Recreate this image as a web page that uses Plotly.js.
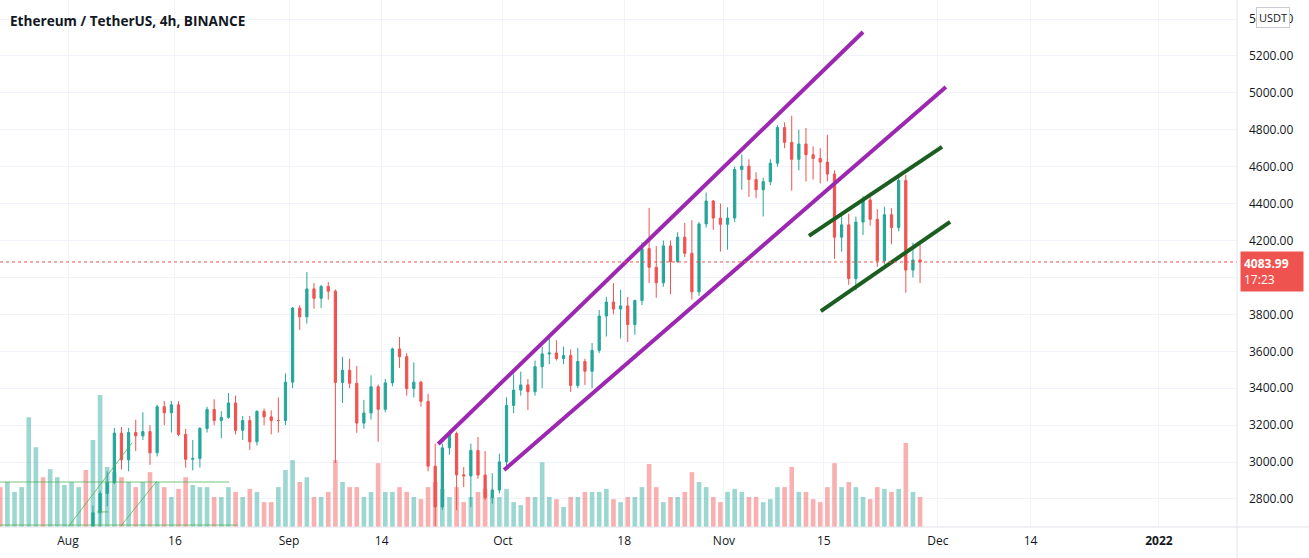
<!DOCTYPE html>
<html>
<head>
<meta charset="utf-8">
<script src="https://cdn.plot.ly/plotly-3.0.1.min.js"></script>
<style>
html,body{margin:0;padding:0;background:#fff;}
#chart{width:1309px;height:558px;}
</style>
</head>
<body>
<div id="chart"></div>
<script>
// ---- Data (daily candles, USDT) ----
const startDate = "2021-07-22";
const openP = [2030,2027,2123,2187,2190,2230,2300,2298,2380,2460,
2540,2560,2610,2505,2725,2830,2890,3157,3012,3160,3142,3165,3050,3300,3267,3310,3150,3015,3020,3182,3285,3225,3242,3320,3172,3225,3110,3275,3245,3225,3225,
3433,3834,3787,3938,3887,3951,3926,3431,3497,3427,3211,3266,3408,3286,3429,3613,3571,3398,3433,3329,2978,2757,3077,3155,2931,2925,3063,2930,2807,2849,
3001,3307,3390,3418,3381,3517,3586,3591,3561,3577,3415,3545,3492,3605,3791,3867,3829,3846,3745,3875,4156,4055,3971,4171,4085,4218,4131,3922,4290,4414,4322,
4288,4322,4585,4603,4531,4475,4519,4619,4812,4732,4640,4723,4665,4645,4625,4560,4218,4285,3994,4300,4420,4315,4090,4340,4270,4525,4040,4095];
const highP = [2050,2130,2215,2200,2440,2320,2350,2400,2470,2550,
2640,2645,2630,2765,2845,2950,3185,3190,3185,3230,3270,3200,3310,3330,3331,3330,3180,3120,3190,3300,3340,3275,3374,3360,3250,3250,3280,3290,3280,3350,3480,
3840,3850,4030,3970,3960,3975,3935,3570,3560,3520,3337,3470,3420,3450,3620,3678,3590,3540,3440,3370,3100,3100,3174,3165,2973,3100,3136,3060,2940,3045,
3350,3475,3490,3450,3550,3624,3689,3660,3625,3610,3618,3560,3645,3824,3895,3970,3933,3895,3880,4190,4377,4170,4200,4200,4245,4295,4310,4300,4460,4420,4400,
4380,4600,4667,4640,4570,4540,4640,4825,4840,4876,4800,4810,4710,4700,4773,4580,4350,4345,4330,4440,4459,4370,4383,4375,4550,4556,4188,4190];
const lowP = [1960,2000,2100,2140,2180,2150,2220,2270,2330,2440,
2510,2540,2450,2460,2530,2760,2880,2960,2950,3060,3120,2985,3030,3200,3160,3140,2970,2955,2970,3160,3200,3130,3235,3150,3120,3066,3090,3200,3150,3160,3200,
3400,3716,3750,3830,3835,3880,2995,3320,3400,3158,3180,3230,3110,3270,3410,3510,3360,3350,3300,2950,2652,2740,3040,2740,2865,2757,2910,2795,2775,2830,
2970,3265,3360,3282,3360,3400,3530,3550,3530,3380,3400,3418,3400,3590,3680,3800,3670,3650,3690,3850,3970,3890,3950,3910,4080,4110,3880,3900,4270,4258,4140,
4150,4300,4475,4437,4430,4330,4500,4600,4700,4470,4580,4520,4530,4510,4520,4100,4140,3960,3930,4230,4280,4057,4070,4180,4250,3917,4000,3970];
const closeP = [2027,2123,2187,2190,2230,2300,2298,2380,2460,2540,
2560,2610,2505,2725,2830,2890,3157,3012,3160,3142,3165,3050,3300,3267,3310,3150,3015,3020,3182,3285,3225,3242,3320,3172,3225,3110,3275,3245,3225,3225,3433,
3834,3787,3938,3887,3951,3926,3431,3497,3427,3211,3266,3408,3286,3429,3613,3571,3398,3433,3329,2978,2757,3077,3155,2931,2925,3063,2930,2807,2849,3001,
3307,3390,3418,3381,3517,3586,3591,3561,3577,3415,3545,3492,3605,3791,3867,3829,3846,3745,3875,4156,4055,3971,4171,4085,4218,4131,3922,4290,4414,4322,4288,
4322,4585,4603,4531,4475,4519,4619,4812,4732,4640,4723,4665,4645,4625,4560,4218,4285,3994,4300,4420,4315,4090,4340,4270,4525,4040,4095,4083.99];
// volume, thousand ETH (peak bar per day as seen)
const volumeK = [133,150,117,133,366,266,166,193,166,140,
150,133,190,290,440,200,183,166,150,133,150,183,150,133,100,127,166,140,133,133,100,100,133,117,100,127,117,83,83,133,190,
223,150,166,100,100,117,223,150,133,133,100,117,213,117,117,133,117,100,93,133,150,127,100,133,83,100,117,127,100,100,
127,83,73,100,100,216,100,93,67,100,100,117,117,117,127,93,83,100,100,133,210,133,83,100,100,117,183,150,133,100,83,
117,127,117,100,100,83,93,133,133,200,117,117,93,83,133,213,133,150,133,100,93,133,127,117,127,280,117,100];

const lastPrice = 4083.99;
const lastLabel = "17:23";
const priceTicks = [2800,3000,3200,3400,3600,3800,4000,4200,4400,4600,4800,5000,5200,5400];
const priceTickText = ["2800.00","3000.00","3200.00","3400.00","3600.00","3800.00","","4200.00","4400.00","4600.00","4800.00","5000.00","5200.00","5400.00"];
const dateTickVals = ["2021-08-01","2021-08-16","2021-09-01","2021-09-14","2021-10-01","2021-10-18","2021-11-01","2021-11-15","2021-12-01","2021-12-14","2022-01-01"];
const dateTickText = ["Aug","16","Sep","14","Oct","18","Nov","15","Dec","14","<b>2022</b>"];

// trend lines drawn on the chart: [date0, price0, date1, price1]
const channelLines = [
  ["2021-09-21 22:00",3098,"2021-11-20 12:00",5330],
  ["2021-10-01 04:00",2957,"2021-12-02 03:00",5032]
];
const flagLines = [
  ["2021-11-12 22:00",4225,"2021-12-01 14:00",4707],
  ["2021-11-14 14:00",3818,"2021-12-02 17:00",4301]
];
const thinLines = [
  ["2021-07-22 00:00",2892,"2021-08-23 14:00",2892],
  ["2021-07-22 00:00",2659,"2021-08-24 20:00",2659],
  ["2021-08-01 00:00",2648,"2021-08-09 23:00",3103],
  ["2021-08-08 10:00",2654,"2021-08-13 11:00",2897],
  ["2021-08-05 02:00",2730,"2021-08-06 16:00",2730]
];

// ---- build ----
const dates = [];
{
  const d0 = new Date(startDate + "T12:00:00Z");
  for (let i = 0; i < closeP.length; i++) {
    const d = new Date(d0.getTime() + i * 86400000);
    dates.push(d.toISOString().slice(0,10) + " 12:00");
  }
}
const UP = "#26a69a", DOWN = "#ef5350";
const volColors = closeP.map((c,i)=> c >= openP[i] ? "rgba(38,166,154,0.45)" : "rgba(239,83,80,0.45)");

const traces = [
  {type:"bar", x:dates, y:volumeK, yaxis:"y2", marker:{color:volColors, line:{width:0}}, hoverinfo:"skip", showlegend:false},
  {type:"candlestick", x:dates, open:openP, high:highP, low:lowP, close:closeP,
   increasing:{line:{color:UP,width:1}, fillcolor:UP},
   decreasing:{line:{color:DOWN,width:1}, fillcolor:DOWN},
   whiskerwidth:0, hoverinfo:"skip", showlegend:false}
];

const shapes = [];
channelLines.forEach(l=>shapes.push({type:"line",xref:"x",yref:"y",x0:l[0],y0:l[1],x1:l[2],y1:l[3],line:{color:"#9c27b0",width:4}}));
flagLines.forEach(l=>shapes.push({type:"line",xref:"x",yref:"y",x0:l[0],y0:l[1],x1:l[2],y1:l[3],line:{color:"#1b5e20",width:4}}));
thinLines.forEach(l=>shapes.push({type:"line",xref:"x",yref:"y",x0:l[0],y0:l[1],x1:l[2],y1:l[3],line:{color:"rgba(76,175,80,0.75)",width:1}}));
shapes.push({type:"line",xref:"paper",yref:"y",x0:0,x1:1,y0:lastPrice,y1:lastPrice,line:{color:DOWN,width:1,dash:"dot"}});
shapes.push({type:"line",xref:"paper",yref:"paper",x0:0,x1:1309/1237,y0:0,y1:0,line:{color:"#e0e3eb",width:1}});
shapes.push({type:"line",xref:"paper",yref:"paper",x0:1,x1:1,y0:-31/527,y1:1,line:{color:"#e0e3eb",width:1}});

const layout = {
  width:1309, height:558,
  margin:{l:0,r:72,t:0,b:31,pad:0},
  paper_bgcolor:"#ffffff", plot_bgcolor:"#ffffff",
  font:{family:"Open Sans, sans-serif", size:12, color:"#131722"},
  showlegend:false,
  xaxis:{type:"date", range:["2021-07-22 11:07","2022-01-11 22:48"],
    tickmode:"array", tickvals:dateTickVals, ticktext:dateTickText,
    showgrid:true, gridcolor:"#f0f3fa", gridwidth:1, zeroline:false, showline:false,
    ticks:"", ticklabelstandoff:5, tickfont:{size:12,color:"#131722"},
    rangeslider:{visible:false}, fixedrange:true},
  yaxis:{side:"right", range:[2648.3,5503], tickmode:"array", tickvals:priceTicks, ticktext:priceTickText,
    showgrid:true, gridcolor:"#f0f3fa", gridwidth:1, zeroline:false,
    showline:false, ticks:"", ticklabelstandoff:11, tickfont:{size:12,color:"#131722"}, fixedrange:true},
  yaxis2:{overlaying:"y", range:[0,1757], visible:false, fixedrange:true},
  bargap:0.35,
  boxgap:0.55,
  shapes:shapes,
  annotations:[
    {xref:"paper",yref:"paper",x:0,y:1,xanchor:"left",yanchor:"top",xshift:8,yshift:-9,
     text:"<b>Ethereum / TetherUS, 4h, BINANCE</b>",showarrow:false,
     font:{family:"Open Sans, sans-serif",size:13.6,color:"#131722"}},
    {xref:"paper",yref:"y",x:1,y:lastPrice,xanchor:"left",yanchor:"top",xshift:3,yshift:11,
     text:"<b>"+lastPrice.toFixed(2)+"</b><br>"+lastLabel,showarrow:false,align:"left",
     bgcolor:DOWN,borderpad:3,width:56,
     font:{family:"Open Sans, sans-serif",size:12,color:"#ffffff"}},
    {xref:"paper",yref:"paper",x:1,y:1,xanchor:"left",yanchor:"top",xshift:19,yshift:-7,
     text:"USDT",showarrow:false,bgcolor:"#ffffff",bordercolor:"#c8cbd3",borderwidth:1,borderpad:2,
     font:{family:"Open Sans, sans-serif",size:11,color:"#131722"}}
  ]
};

Plotly.newPlot("chart", traces, layout, {displayModeBar:false, staticPlot:true});
</script>
</body>
</html>
